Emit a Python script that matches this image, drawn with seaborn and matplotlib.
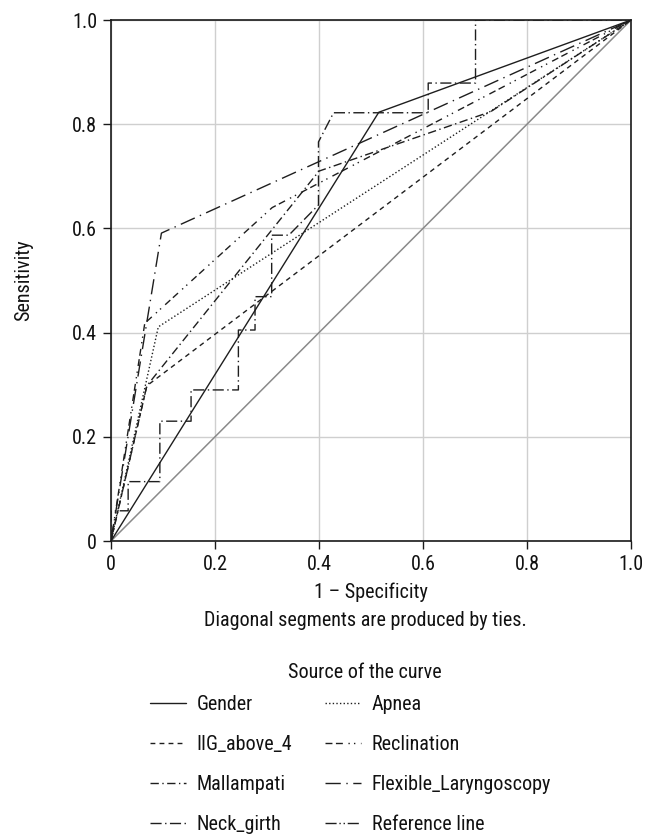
import numpy as np
import pandas as pd
import seaborn as sns
import matplotlib
matplotlib.use("Agg")
import matplotlib.pyplot as plt
from matplotlib.lines import Line2D
from matplotlib import font_manager

# curve names (legend order)
curves = ["Gender", "Apnea", "IIG_above_4", "Reclination",
          "Mallampati", "Flexible_Laryngoscopy", "Neck_girth"]

# ROC points (1 - specificity, sensitivity)
gender_x = [0, 0.515, 1]
gender_y = [0, 0.823, 1]
apnea_x = [0, 0.091, 1]
apnea_y = [0, 0.411, 1]
iig_x = [0, 0.069, 1]
iig_y = [0, 0.298, 1]
recl_x = [0, 0.065, 0.31, 1]
recl_y = [0, 0.418, 0.64, 1]
mall_x = [0, 0.069, 0.40, 0.73, 1]
mall_y = [0, 0.298, 0.71, 0.824, 1]
flex_x = [0, 0.097, 1]
flex_y = [0, 0.591, 1]
neck_x = [0, 0.0, 0.033, 0.033, 0.094, 0.094, 0.154, 0.154, 0.245, 0.245,
          0.277, 0.277, 0.309, 0.309, 0.342, 0.399, 0.399, 0.428, 0.61, 0.61,
          0.701, 0.701, 1]
neck_y = [0, 0.058, 0.058, 0.114, 0.114, 0.23, 0.23, 0.29, 0.29, 0.405,
          0.405, 0.469, 0.469, 0.587, 0.587, 0.645, 0.766, 0.822, 0.822, 0.879,
          0.879, 1.0, 1]
ref_x = [0, 1]
ref_y = [0, 1]

ticks = [0, 0.2, 0.4, 0.6, 0.8, 1.0]
tick_labels = ["0", "0.2", "0.4", "0.6", "0.8", "1.0"]

xs = [gender_x, apnea_x, iig_x, recl_x, mall_x, flex_x, neck_x]
ys = [gender_y, apnea_y, iig_y, recl_y, mall_y, flex_y, neck_y]

rows = []
for name, cx, cy in zip(curves, xs, ys):
    for i, (a, b) in enumerate(zip(cx, cy)):
        rows.append({"curve": name, "order": i, "fpr": a, "tpr": b})
df = pd.DataFrame(rows)

dash_styles = {
    "Gender": "",
    "Apnea": (1, 1.6),
    "IIG_above_4": (3.5, 3),
    "Reclination": (5, 2.5, 5, 4, 1, 3, 1, 4),
    "Mallampati": (6, 2.5, 1, 2.5),
    "Flexible_Laryngoscopy": (11, 4, 1, 4),
    "Neck_girth": (8, 2.5, 1, 2.5),
}

# pick a condensed face if one is installed
installed = {f.name for f in font_manager.fontManager.ttflist}
families = [f for f in ["Liberation Sans Narrow", "DejaVu Sans Condensed",
                        "Roboto Condensed", "Open Sans Condensed"] if f in installed]
fs = 14.5 if families else 11.5

sns.set_style("whitegrid")
plt.rcParams["font.family"] = families + ["DejaVu Sans"]
plt.rcParams["font.size"] = fs
plt.rcParams["text.color"] = "#111111"

fig = plt.figure(figsize=(6.46, 8.34), dpi=100)
ax = fig.add_axes([0.1718, 0.3513, 0.805, 0.6247])

# reference diagonal
sns.lineplot(x=ref_x, y=ref_y, color="#8a8a8a", linewidth=1.1, ax=ax)

sns.lineplot(data=df, x="fpr", y="tpr", style="curve", units="curve",
             estimator=None, sort=False, dashes=dash_styles, color="#1e1e1e",
             linewidth=1.0, ax=ax, legend=False)

ax.set_xlim(0, 1)
ax.set_ylim(0, 1)
ax.set_xticks(ticks)
ax.set_xticklabels(tick_labels)
ax.set_yticks(ticks)
ax.set_yticklabels(tick_labels)
ax.grid(True, color="#cfcfcf", linewidth=1.0)
for sp in ax.spines.values():
    sp.set_color("#1a1a1a")
    sp.set_linewidth(1.2)
ax.tick_params(axis="both", which="both", length=6, width=1, color="#1a1a1a",
               direction="out", left=True, bottom=True, labelsize=fs, pad=4,
               labelcolor="#111111")
ax.set_xlabel("1 \u2013 Specificity", fontsize=fs, labelpad=6, color="#111111")
ax.set_ylabel("Sensitivity", fontsize=fs, labelpad=28, color="#111111")

fig.text(0.565, 1 - 621 / 834, "Diagonal segments are produced by ties.",
         ha="center", va="center", fontsize=fs)
fig.text(0.565, 1 - 672 / 834, "Source of the curve",
         ha="center", va="center", fontsize=fs)

# legend: handles follow the line styles of the legend in the reference
names = curves + ["Reference line"]
styles = [dash_styles[c] for c in curves] + [(8, 2, 1, 2, 1, 2)]
handles = []
for n, s in zip(names, styles):
    h = Line2D([], [], color="#1e1e1e", linewidth=1.0)
    if s != "":
        h.set_dashes(s)
    handles.append(h)
# reorder so that matplotlib's column filling reads row by row
order = [0, 2, 4, 6, 1, 3, 5, 7]
leg = fig.legend([handles[i] for i in order], [names[i] for i in order],
                 ncol=2, loc="upper left", bbox_to_anchor=(146 / 646, 1 - 691 / 834),
                 frameon=False, fontsize=fs, handlelength=1.8, handletextpad=0.5,
                 columnspacing=1.65, labelspacing=1.05, borderpad=0.2,
                 borderaxespad=0)

fig.savefig("out.png", dpi=100)
